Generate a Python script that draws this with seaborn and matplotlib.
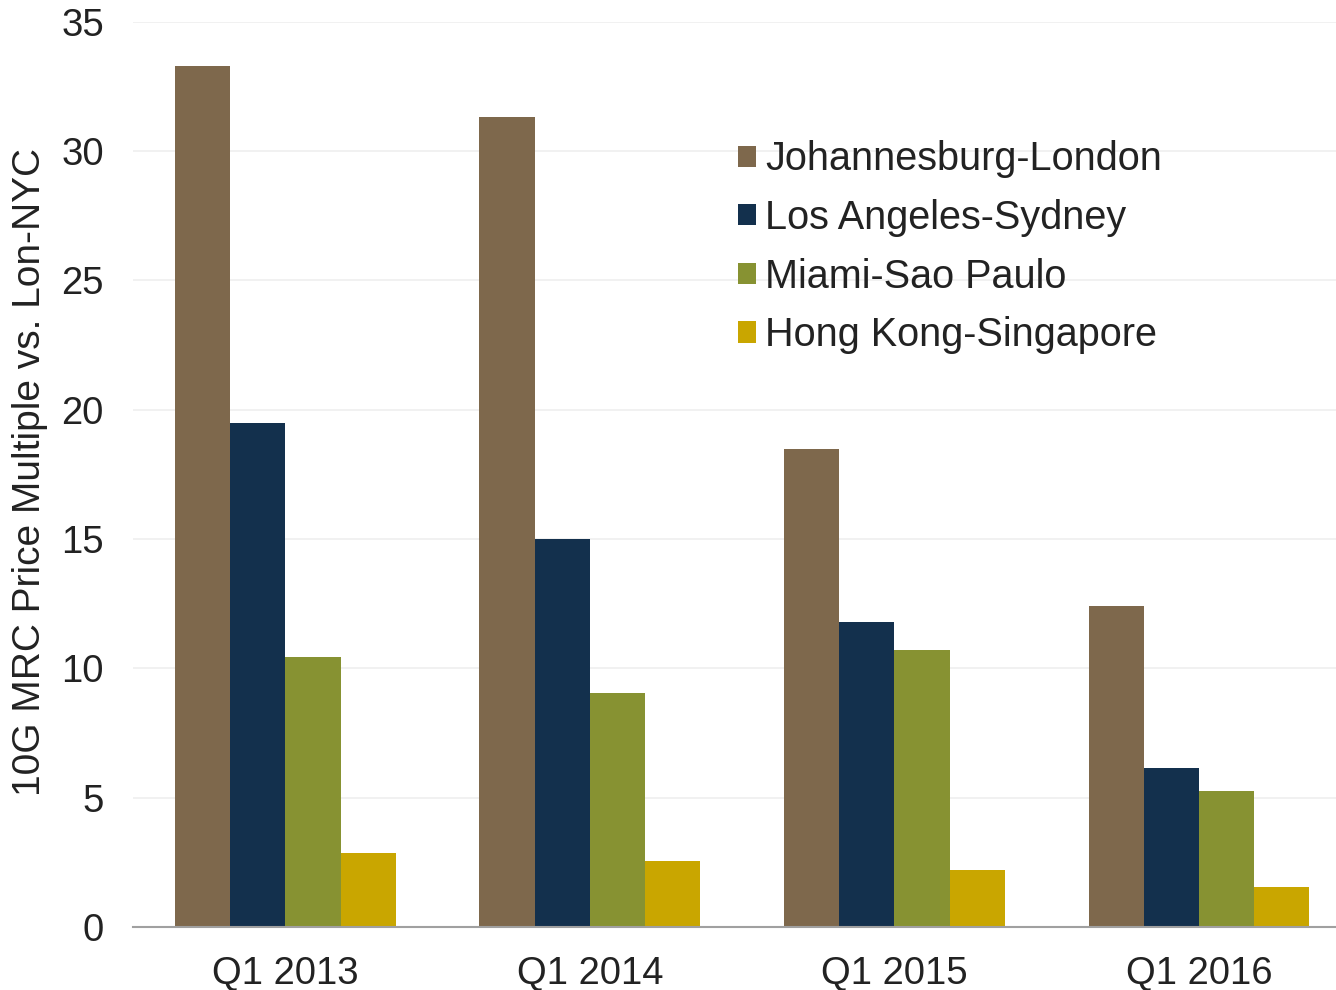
import pandas as pd
import matplotlib.pyplot as plt
import seaborn as sns

# Values
quarters = ["Q1 2013", "Q1 2014", "Q1 2015", "Q1 2016"]
routes = ["Johannesburg-London", "Los Angeles-Sydney", "Miami-Sao Paulo", "Hong Kong-Singapore"]
jnb_lon = [33.3, 31.3, 18.5, 12.4]
lax_syd = [19.5, 15.0, 11.8, 6.15]
mia_sao = [10.45, 9.05, 10.7, 5.25]
hkg_sin = [2.85, 2.55, 2.2, 1.55]
colors = ["#7E684C", "#13304D", "#879232", "#C9A600"]

rows = []
for route, vals in zip(routes, [jnb_lon, lax_syd, mia_sao, hkg_sin]):
    for q, v in zip(quarters, vals):
        rows.append({"quarter": q, "route": route, "multiple": v})
df = pd.DataFrame(rows)

sns.set_style("white")
plt.rcParams["font.family"] = ["Liberation Sans", "DejaVu Sans"]
plt.rcParams["text.color"] = "#222222"

fig = plt.figure(figsize=(13.36, 9.9), dpi=100)
ax = fig.add_axes([0.0996, 0.0636, 0.9004, 0.9144])

sns.barplot(data=df, x="quarter", y="multiple", hue="route", order=quarters,
            hue_order=routes, palette=colors, saturation=1, width=0.725,
            edgecolor="none", ax=ax)

ax.set_ylim(0, 35)
ax.set_xlim(-0.5, 3.45)
ax.set_yticks(range(0, 36, 5))
ax.yaxis.grid(True, color="#EFEFEF", linewidth=1.2)
ax.set_axisbelow(True)
for side in ["top", "right", "left"]:
    ax.spines[side].set_visible(False)
ax.spines["bottom"].set_color("#A0A0A0")
ax.spines["bottom"].set_linewidth(1.5)

ax.tick_params(axis="both", length=0, labelsize=27.5, labelcolor="#222222")
ax.tick_params(axis="y", pad=21)
ax.tick_params(axis="x", pad=21)
ax.set_xlabel("")
ax.set_ylabel("10G MRC Price Multiple vs. Lon-NYC", fontsize=28, color="#222222")
ax.yaxis.set_label_coords(-0.0707, 0.503)

ax.legend(loc="upper left", bbox_to_anchor=(0.4895, 0.8865), frameon=False,
          fontsize=28.5, handlelength=0.45, handleheight=0.45, handletextpad=0.25,
          labelspacing=0.52, borderaxespad=0)

fig.savefig("out.png", dpi=100)
